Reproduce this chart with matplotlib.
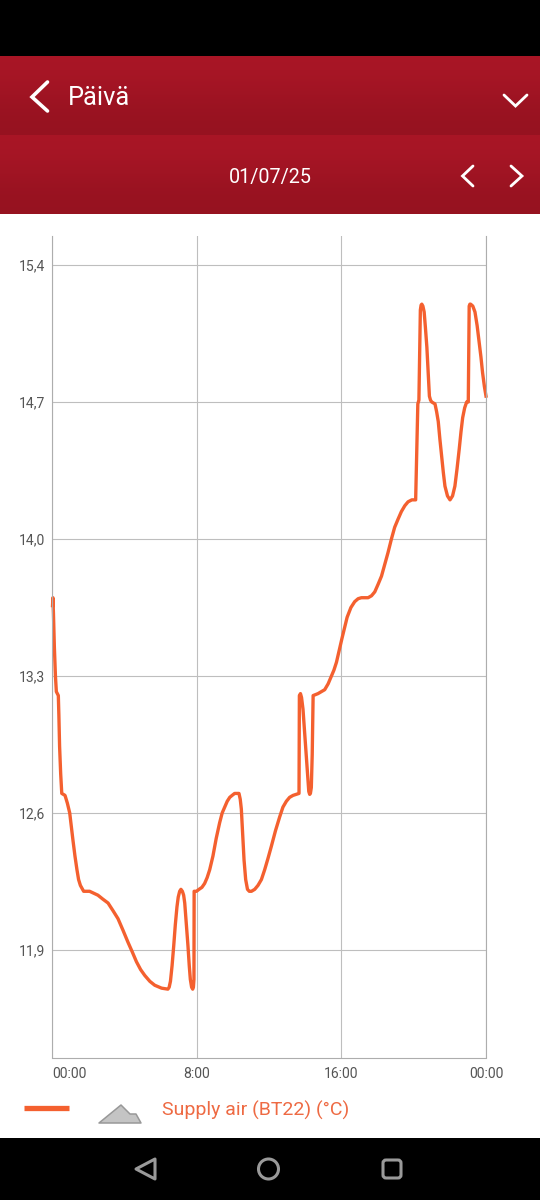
import numpy as np
import matplotlib
matplotlib.use('Agg')
import matplotlib.pyplot as plt

plt.rcParams['font.family'] = ['Roboto', 'DejaVu Sans']

# readings: hours since midnight, supply air temp (rows of 10 line up)
hours = [0.03, 0.05, 0.08, 0.13, 0.19, 0.24, 0.35, 0.38, 0.42, 0.48,
         0.54, 0.72, 0.85, 0.98, 1.07, 1.16, 1.27, 1.38, 1.47, 1.57,
         1.75, 2.08, 2.31, 2.54, 2.81, 3.10, 3.38, 3.65, 3.93, 4.20,
         4.44, 4.67, 4.90, 5.13, 5.41, 5.68, 6.06, 6.41, 6.48, 6.55,
         6.64, 6.73, 6.82, 6.91, 6.98, 7.06, 7.13, 7.21, 7.28, 7.34,
         7.43, 7.52, 7.59, 7.65, 7.72, 7.78, 7.82, 7.85, 7.86, 7.99,
         8.13, 8.29, 8.44, 8.58, 8.72, 8.90, 9.08, 9.27, 9.41, 9.55,
         9.69, 9.83, 9.96, 10.10, 10.34, 10.41, 10.47, 10.54, 10.62, 10.71,
         10.81, 10.91, 11.03, 11.21, 11.39, 11.58, 11.76, 11.95, 12.13, 12.36,
         12.59, 12.77, 12.96, 13.14, 13.33, 13.66, 13.68, 13.74, 13.80, 13.88,
         13.97, 14.07, 14.14, 14.20, 14.25, 14.29, 14.34, 14.39, 14.44, 14.57,
         14.71, 14.89, 15.08, 15.27, 15.45, 15.59, 15.73, 16.03, 16.32, 16.53,
         16.74, 16.93, 17.11, 17.48, 17.67, 17.85, 18.04, 18.22, 18.40, 18.58,
         18.77, 18.95, 19.13, 19.32, 19.51, 19.69, 19.90, 20.11, 20.23, 20.29,
         20.37, 20.41, 20.45, 20.51, 20.58, 20.65, 20.73, 20.80, 20.87, 20.93,
         21.00, 21.18, 21.27, 21.36, 21.45, 21.55, 21.64, 21.73, 21.87, 22.01,
         22.15, 22.28, 22.40, 22.52, 22.62, 22.71, 22.82, 22.93, 23.02, 23.07,
         23.11, 23.15, 23.27, 23.39, 23.51, 23.63, 23.72, 23.81, 23.91, 24.00]
temps = [13.66, 13.70, 13.62, 13.45, 13.30, 13.22, 13.20, 13.10, 12.94, 12.80,
         12.70, 12.69, 12.65, 12.60, 12.53, 12.46, 12.38, 12.31, 12.26, 12.23,
         12.20, 12.20, 12.19, 12.18, 12.16, 12.14, 12.10, 12.06, 12.00, 11.94,
         11.89, 11.84, 11.80, 11.77, 11.74, 11.72, 11.705, 11.70, 11.71, 11.74,
         11.82, 11.92, 12.03, 12.12, 12.17, 12.20, 12.21, 12.20, 12.18, 12.14,
         12.03, 11.92, 11.82, 11.75, 11.71, 11.70, 11.71, 11.75, 12.20, 12.20,
         12.21, 12.22, 12.24, 12.27, 12.31, 12.38, 12.47, 12.55, 12.60, 12.63,
         12.66, 12.68, 12.69, 12.70, 12.70, 12.67, 12.62, 12.50, 12.36, 12.26,
         12.21, 12.20, 12.20, 12.21, 12.23, 12.26, 12.31, 12.37, 12.43, 12.51,
         12.58, 12.63, 12.66, 12.68, 12.69, 12.70, 13.20, 13.21, 13.19, 13.13,
         13.01, 12.87, 12.78, 12.71, 12.695, 12.70, 12.73, 12.90, 13.20, 13.205,
         13.21, 13.22, 13.23, 13.26, 13.30, 13.33, 13.37, 13.49, 13.60, 13.65,
         13.68, 13.695, 13.70, 13.70, 13.71, 13.73, 13.77, 13.81, 13.87, 13.93,
         14.00, 14.06, 14.10, 14.14, 14.17, 14.19, 14.20, 14.20, 14.69, 14.71,
         15.17, 15.195, 15.20, 15.19, 15.16, 15.08, 14.98, 14.85, 14.73, 14.71,
         14.70, 14.69, 14.65, 14.60, 14.51, 14.42, 14.34, 14.27, 14.22, 14.20,
         14.22, 14.27, 14.36, 14.46, 14.55, 14.62, 14.67, 14.70, 14.70, 15.19,
         15.20, 15.20, 15.19, 15.16, 15.09, 15.00, 14.93, 14.85, 14.78, 14.73]
y_ticks = [11.9, 12.6, 13.3, 14.0, 14.7, 15.4]
y_labels = ['11,9', '12,6', '13,3', '14,0', '14,7', '15,4']
x_ticks = [0, 8, 16, 24]
x_labels = ['00:00', '8:00', '16:00', '00:00']
title = 'Päivä'
date = '01/07/25'
series_name = 'Supply air (BT22) (°C)'

W, H = 540, 1200
orange = '#F4602F'
grid = '#BEBEBE'
fig = plt.figure(figsize=(W / 100, H / 100), dpi=100, facecolor='white')

# page furniture, in pixel coords
bg = fig.add_axes([0, 0, 1, 1], zorder=0)
bg.set_xlim(0, W)
bg.set_ylim(H, 0)
bg.axis('off')
bg.fill_between([0, W], 0, 56, color='black', lw=0)
bg.fill_between([0, W], 1138, 1200, color='black', lw=0)
grad = np.array([[0.0], [1.0]])
cmap = matplotlib.colors.LinearSegmentedColormap.from_list('bar', ['#A91626', '#961220'])
for top, bottom in [(56, 135), (135, 214)]:
    bg.imshow(grad, extent=(0, W, bottom, top), cmap=cmap, aspect='auto', interpolation='bicubic')
bg.set_xlim(0, W)
bg.set_ylim(H, 0)


def chevron(xs, ys, lw, color='white'):
    bg.plot(xs, ys, color=color, lw=lw * 0.72, solid_capstyle='round', solid_joinstyle='miter')


chevron([47.5, 32, 47.5], [82, 97, 111], 3.6)
chevron([504, 515.5, 527], [95, 106, 95], 2.8)
chevron([473, 462.5, 473], [166, 176, 186], 2.8)
chevron([511, 522, 511], [166, 176, 186], 2.8)
bg.text(68, 98, title, color='white', fontsize=18.3, va='center', ha='left')
bg.text(270, 177, date, color='white', fontsize=14.2, va='center', ha='center')

# legend
bg.plot([24, 69], [1108, 1108], color=orange, lw=3.8, solid_capstyle='butt')
bg.fill([99, 121, 130, 136, 141], [1123, 1105, 1114, 1114, 1123],
        facecolor='#C4C4C4', edgecolor='#989898', lw=1.1, joinstyle='round')
bg.text(162.5, 1110, series_name, color='#EE6A43', fontsize=14, va='center', ha='left')

# nav buttons
nav = '#9A9A9A'
bg.fill([155, 136, 155], [1159, 1169, 1179], facecolor='none', edgecolor=nav, lw=2.2, joinstyle='round')
bg.add_patch(plt.Circle((268.5, 1169), 10, facecolor='none', edgecolor=nav, lw=2.2))
bg.add_patch(matplotlib.patches.FancyBboxPatch((383, 1160), 18, 18, boxstyle='round,pad=0,rounding_size=3',
                                               facecolor='none', edgecolor=nav, lw=2.2))

# chart
px_to_val = 0.7 / 137
ax = fig.add_axes([52 / W, 1 - 1057.5 / H, 434 / W, 821.5 / H], zorder=1)
ax.patch.set_alpha(0)
ax.set_xlim(0, 24)
ax.set_ylim(15.4 - (1057.5 - 265) * px_to_val, 15.4 + (265 - 236) * px_to_val)
ax.set_xticks(x_ticks)
ax.set_xticklabels(x_labels)
ax.set_yticks(y_ticks)
ax.set_yticklabels(y_labels)
ax.tick_params(length=0, labelsize=10.1, labelcolor='#555555')
ax.tick_params(axis='x', pad=7)
ax.tick_params(axis='y', pad=5)
ax.grid(True, color=grid, lw=0.8)
ax.set_axisbelow(True)
for name, sp in ax.spines.items():
    sp.set_color('#ADADAD')
    sp.set_linewidth(0.8)
ax.spines['top'].set_visible(False)
ax.plot(hours, temps, color=orange, lw=2.4, solid_joinstyle='round', clip_on=False)

fig.canvas.draw()
ax.get_xticklabels()[0].set_ha('left')
fig.savefig('out.png', dpi=100)
